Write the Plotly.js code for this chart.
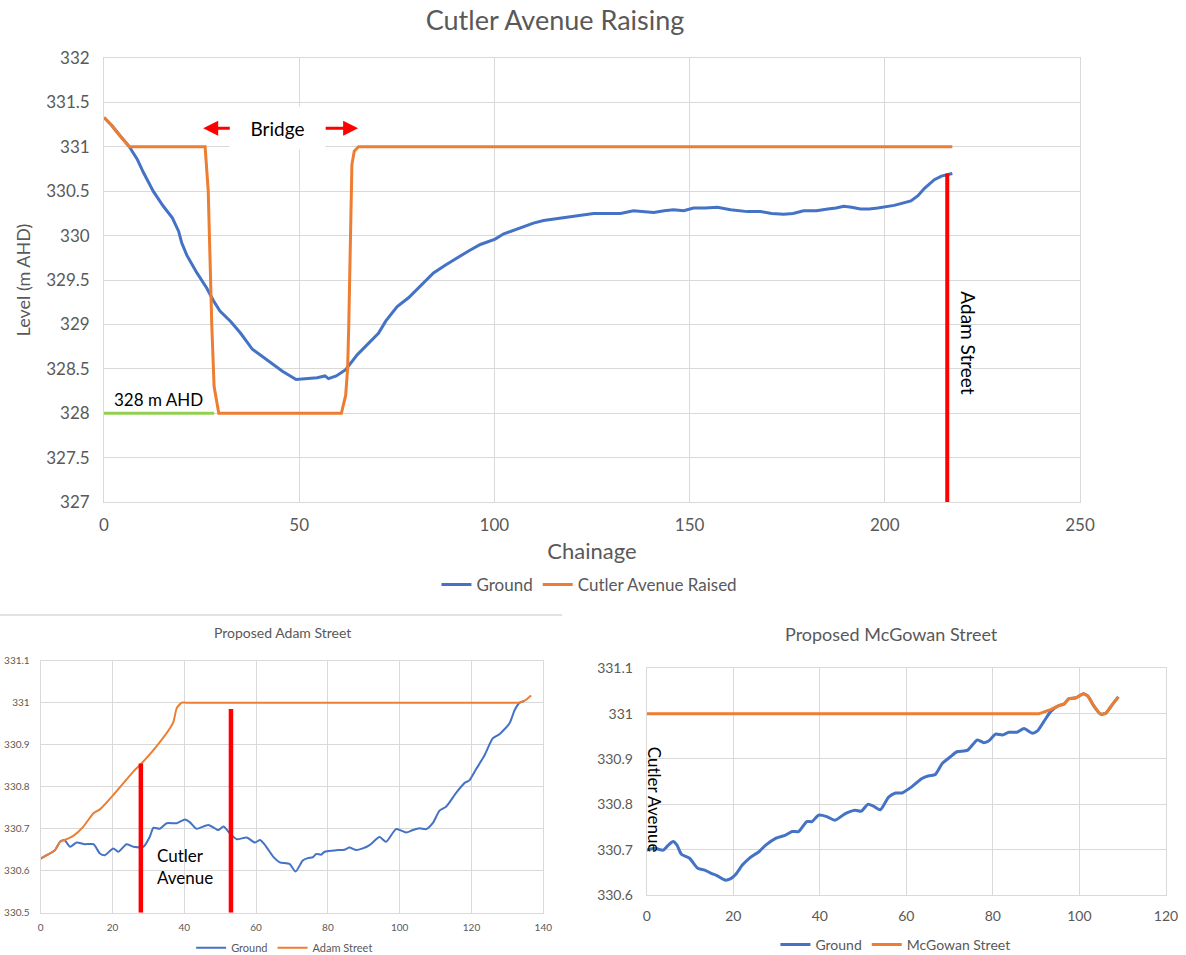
<!DOCTYPE html>
<html>
<head>
<meta charset="utf-8">
<script src="https://cdn.plot.ly/plotly-3.0.1.min.js"></script>
<style>html,body{margin:0;padding:0;background:#fff;}#chart{width:1186px;height:955px;}</style>
</head>
<body>
<div id="chart"></div>
<script>
// ---------- Top chart: Cutler Avenue Raising ----------
const topGroundX = [0, 2, 4, 6.5, 8.5, 10.1, 12.6, 15.2, 17.5, 19.1, 19.9, 21.2, 23.8, 26.3, 28, 29.7, 32.5, 35, 38, 41.9, 45.8, 49.2, 51.7, 54.6, 56.6, 57.5, 59.5, 61.9, 64.9, 67.3, 70.3, 72.2, 75.1, 78, 81, 84.4, 87.5, 90.4, 93.5, 96.4, 98.5, 100.2, 102.4, 105, 107.5, 110, 112.6, 115.5, 118.6, 122, 125.4, 129, 132.3, 135.6, 138, 140.8, 143.5, 145.9, 148.5, 151, 154, 157.1, 160.5, 164.8, 168.2, 171, 174.1, 176.5, 179.2, 182.5, 185.4, 187.5, 189.5, 191.5, 193.8, 196, 198.2, 202.4, 206.7, 208.5, 210.1, 212.7, 214.5, 216.1, 217.3];
const topGroundY = [331.33, 331.24, 331.13, 331.0, 330.86, 330.71, 330.5, 330.33, 330.2, 330.05, 329.92, 329.78, 329.58, 329.41, 329.27, 329.15, 329.03, 328.9, 328.72, 328.6, 328.47, 328.38, 328.39, 328.4, 328.42, 328.39, 328.42, 328.49, 328.66, 328.77, 328.9, 329.04, 329.2, 329.3, 329.43, 329.58, 329.67, 329.75, 329.83, 329.9, 329.93, 329.96, 330.02, 330.06, 330.1, 330.14, 330.17, 330.19, 330.21, 330.23, 330.25, 330.25, 330.25, 330.28, 330.27, 330.26, 330.28, 330.29, 330.28, 330.31, 330.31, 330.32, 330.29, 330.27, 330.27, 330.25, 330.24, 330.25, 330.28, 330.28, 330.30, 330.31, 330.33, 330.32, 330.30, 330.30, 330.31, 330.34, 330.39, 330.45, 330.53, 330.63, 330.67, 330.69, 330.7];
const topRaisedX = [0, 2, 4, 6.5, 15, 25.9, 26.7, 27.2, 27.6, 28.2, 29.4, 45, 60.8, 61.9, 62.4, 62.7, 63.5, 64.1, 65.2, 120, 217.3];
const topRaisedY = [331.33, 331.24, 331.13, 331.0, 331.0, 331.0, 330.5, 329.5, 329.0, 328.3, 328.0, 328.0, 328.0, 328.2, 328.5, 329.0, 330.8, 330.95, 331.0, 331.0, 331.0];
const ahdLineX = [0, 28.2];
const ahdLineY = [328, 328];
const adamStreetMarkX = [216, 216];
const adamStreetMarkY = [327, 330.7];

// ---------- Bottom left: Proposed Adam Street ----------
const adamGroundX = [0, 1.7, 4, 5.4, 6.6, 8.2, 10, 12.3, 14.7, 16.5, 17.9, 20.2, 21.6, 23.9, 25.8, 28.6, 30.4, 31.4, 33.2, 35.1, 37.9, 40.2, 41.6, 43.4, 46.7, 49.5, 50.9, 52.7, 54.6, 57.4, 59.7, 61.1, 62.5, 64.8, 66.6, 69.3, 71, 73, 74.4, 75.8, 76.8, 78.1, 79.1, 82.8, 84.6, 86, 87.9, 89.7, 91.6, 94.4, 96.2, 99, 101.8, 103.7, 105.5, 107.4, 109.2, 111.1, 112.9, 115.7, 118.1, 119.4, 121.3, 123.6, 125.9, 127.8, 130.6, 132, 133.4, 134.8];
const adamGroundY = [330.629, 330.637, 330.649, 330.669, 330.673, 330.657, 330.667, 330.663, 330.663, 330.641, 330.637, 330.653, 330.645, 330.663, 330.657, 330.657, 330.681, 330.702, 330.700, 330.713, 330.713, 330.722, 330.715, 330.700, 330.709, 330.697, 330.705, 330.689, 330.675, 330.679, 330.667, 330.673, 330.661, 330.633, 330.620, 330.616, 330.598, 330.624, 330.630, 330.632, 330.640, 330.638, 330.645, 330.649, 330.650, 330.655, 330.649, 330.653, 330.661, 330.680, 330.669, 330.699, 330.691, 330.697, 330.701, 330.699, 330.713, 330.743, 330.752, 330.785, 330.809, 330.815, 330.842, 330.874, 330.915, 330.925, 330.951, 330.982, 331.000, 331.004];
const adamStreetX = [0, 1.7, 4, 5.4, 6.6, 7.2, 9.1, 11.9, 14.7, 16.5, 20.2, 25.8, 27.7, 31.4, 36, 37, 37.9, 39.3, 40.5, 80, 132, 133.4, 135.2, 136.6];
const adamStreetY = [330.629, 330.637, 330.649, 330.669, 330.673, 330.675, 330.683, 330.705, 330.737, 330.746, 330.780, 330.836, 330.852, 330.887, 330.939, 330.955, 330.987, 331.0, 331.0, 331.0, 331.0, 331.0, 331.007, 331.017];
const cutlerMarkX = [27.9, 53];
const cutlerMarkTop = [330.855, 330.985];
const cutlerMarkBase = 330.5;

// ---------- Bottom right: Proposed McGowan Street ----------
const mcgGroundX = [0, 1.9, 3.8, 5, 6.1, 7, 8, 9.9, 11.8, 13.4, 14.9, 16, 18.1, 19.2, 20.6, 22.1, 23.7, 26, 27.5, 29.8, 32.1, 33.6, 35.1, 37, 38.2, 39.7, 41.6, 43.5, 45.8, 48.1, 49.6, 51.1, 52.4, 54, 55.9, 57.5, 59, 61.3, 63.6, 65.2, 66.7, 68.3, 70.2, 71.7, 74.1, 76.4, 77.9, 79.1, 80.6, 82.2, 83.7, 85.6, 87.2, 89.1, 90.3, 91.8, 93.4, 95.3, 96.4, 97.6, 99.2, 100.9, 101.9, 103.4, 104.9, 106.1, 107.6, 109];
const mcgGroundY = [330.699, 330.703, 330.699, 330.710, 330.718, 330.710, 330.690, 330.681, 330.659, 330.655, 330.648, 330.644, 330.633, 330.635, 330.646, 330.666, 330.681, 330.696, 330.710, 330.725, 330.732, 330.740, 330.740, 330.762, 330.762, 330.776, 330.773, 330.765, 330.779, 330.787, 330.785, 330.800, 330.796, 330.788, 330.816, 330.825, 330.825, 330.839, 330.857, 330.863, 330.866, 330.890, 330.905, 330.916, 330.919, 330.942, 330.936, 330.940, 330.955, 330.953, 330.959, 330.959, 330.967, 330.957, 330.962, 330.983, 331.005, 331.018, 331.021, 331.033, 331.035, 331.044, 331.039, 331.016, 330.999, 331.001, 331.020, 331.037];
const mcgStreetX = [0, 50, 89.5, 90.7, 92.2, 93.4, 95.3, 96.4, 97.6, 99.2, 100.9, 101.9, 103.4, 104.9, 106.1, 107.6, 109];
const mcgStreetY = [331.0, 331.0, 331.0, 331.0, 331.005, 331.009, 331.018, 331.021, 331.033, 331.035, 331.044, 331.039, 331.016, 330.999, 331.001, 331.020, 331.037];

const BLUE = '#4472C4', ORANGE = '#ED7D31', RED = '#FF0000', GREEN = '#92D050';
const GRID = '#d9d9d9', TXT = '#595959';
const FONT = 'Lato, "Open Sans", sans-serif';

const traces = [
  {x: topGroundX, y: topGroundY, xaxis: 'x', yaxis: 'y', name: 'Ground', mode: 'lines',
   line: {color: BLUE, width: 3}, legend: 'legend'},
  {x: topRaisedX, y: topRaisedY, xaxis: 'x', yaxis: 'y', name: 'Cutler Avenue Raised', mode: 'lines',
   line: {color: ORANGE, width: 3}, legend: 'legend'},
  {x: ahdLineX, y: ahdLineY, xaxis: 'x', yaxis: 'y', mode: 'lines', showlegend: false, hoverinfo: 'skip',
   line: {color: GREEN, width: 3}},
  {x: adamStreetMarkX, y: adamStreetMarkY, xaxis: 'x', yaxis: 'y', mode: 'lines', showlegend: false, hoverinfo: 'skip',
   line: {color: RED, width: 4}},

  {x: adamGroundX, y: adamGroundY, xaxis: 'x2', yaxis: 'y2', name: 'Ground', mode: 'lines',
   line: {color: BLUE, width: 2, shape: 'spline', smoothing: 0.6}, legend: 'legend2'},
  {x: adamStreetX, y: adamStreetY, xaxis: 'x2', yaxis: 'y2', name: 'Adam Street', mode: 'lines',
   line: {color: ORANGE, width: 2, shape: 'spline', smoothing: 0.6}, legend: 'legend2'},
  {x: [cutlerMarkX[0], cutlerMarkX[0]], y: [cutlerMarkBase, cutlerMarkTop[0]], xaxis: 'x2', yaxis: 'y2', mode: 'lines',
   showlegend: false, hoverinfo: 'skip', line: {color: RED, width: 4.5}},
  {x: [cutlerMarkX[1], cutlerMarkX[1]], y: [cutlerMarkBase, cutlerMarkTop[1]], xaxis: 'x2', yaxis: 'y2', mode: 'lines',
   showlegend: false, hoverinfo: 'skip', line: {color: RED, width: 4.5}},

  {x: mcgGroundX, y: mcgGroundY, xaxis: 'x3', yaxis: 'y3', name: 'Ground', mode: 'lines',
   line: {color: BLUE, width: 3, shape: 'spline', smoothing: 0.6}, legend: 'legend3'},
  {x: mcgStreetX, y: mcgStreetY, xaxis: 'x3', yaxis: 'y3', name: 'McGowan Street', mode: 'lines',
   line: {color: ORANGE, width: 3, shape: 'spline', smoothing: 0.6}, legend: 'legend3'}
];

function ax(extra) {
  return Object.assign({
    showgrid: true, gridcolor: GRID, gridwidth: 1, zeroline: false,
    showline: true, linecolor: GRID, linewidth: 1, mirror: true,
    ticks: '', fixedrange: true
  }, extra);
}

const layout = {
  width: 1186, height: 955,
  margin: {l: 0, r: 0, t: 0, b: 0, autoexpand: false},
  paper_bgcolor: '#ffffff', plot_bgcolor: '#ffffff',
  font: {family: FONT, color: TXT},
  title: {text: 'Cutler Avenue Raising', x: 0.468, xanchor: 'center', y: 0.979, yanchor: 'middle',
          font: {size: 27, color: TXT, family: FONT}},
  xaxis: ax({domain: [0.0877, 0.9106], anchor: 'y', range: [0, 250], tick0: 0, dtick: 50,
             tickfont: {size: 17, color: TXT}, ticklabelstandoff: 8,
             title: {text: 'Chainage', font: {size: 22, color: TXT}, standoff: 9}}),
  yaxis: ax({domain: [0.4743, 0.9393], anchor: 'x', range: [327, 332], tick0: 327, dtick: 0.5,
             tickfont: {size: 17, color: TXT}, ticklabelstandoff: 10,
             title: {text: 'Level (m AHD)', font: {size: 18, color: TXT}, standoff: 10}}),
  xaxis2: ax({domain: [0.0343, 0.4581], anchor: 'y2', range: [0, 140], tick0: 0, dtick: 20,
              tickfont: {size: 10, color: TXT}, ticklabelstandoff: 5}),
  yaxis2: ax({domain: [0.0443, 0.3082], anchor: 'x2', range: [330.5, 331.1], tick0: 330.5, dtick: 0.1,
              tickfont: {size: 10, color: TXT}, ticklabelstandoff: 8}),
  xaxis3: ax({domain: [0.5453, 0.9831], anchor: 'y3', range: [0, 120], tick0: 0, dtick: 20,
              tickfont: {size: 14, color: TXT}, ticklabelstandoff: 8}),
  yaxis3: ax({domain: [0.0628, 0.3002], anchor: 'x3', range: [330.6, 331.1], tick0: 330.6, dtick: 0.1,
              tickfont: {size: 14, color: TXT}, ticklabelstandoff: 10}),
  legend: {orientation: 'h', x: 0.497, xanchor: 'center', y: 0.3874, yanchor: 'middle',
           font: {size: 17, color: TXT}, bgcolor: 'rgba(0,0,0,0)'},
  legend2: {orientation: 'h', x: 0.24, xanchor: 'center', y: 0.0075, yanchor: 'middle',
            font: {size: 11, color: TXT}, bgcolor: 'rgba(0,0,0,0)'},
  legend3: {orientation: 'h', x: 0.755, xanchor: 'center', y: 0.0105, yanchor: 'middle',
            font: {size: 14, color: TXT}, bgcolor: 'rgba(0,0,0,0)'},
  shapes: [
    {type: 'line', xref: 'paper', yref: 'paper', x0: 0, x1: 0.474, y0: 0.356, y1: 0.356,
     line: {color: GRID, width: 1.5}}
  ],
  annotations: [
    {xref: 'x', yref: 'y', x: 44.4, y: 331.21, text: 'Bridge', showarrow: false,
     font: {size: 19, color: '#000000', family: FONT}, bgcolor: '#ffffff', width: 93, height: 40},
    {xref: 'x', yref: 'y', x: 25.4, y: 331.21, ax: 32.6, ay: 331.21, axref: 'x', ayref: 'y', text: '',
     showarrow: true, arrowcolor: RED, arrowwidth: 3, arrowhead: 2, arrowsize: 1},
    {xref: 'x', yref: 'y', x: 65.1, y: 331.21, ax: 56.4, ay: 331.21, axref: 'x', ayref: 'y', text: '',
     showarrow: true, arrowcolor: RED, arrowwidth: 3, arrowhead: 2, arrowsize: 1},
    {xref: 'x', yref: 'y', x: 2, y: 328.15, text: '328 m AHD', showarrow: false, xanchor: 'left', yanchor: 'middle',
     font: {size: 17, color: '#000000', family: FONT}},
    {xref: 'x', yref: 'y', x: 221.5, y: 328.79, text: 'Adam Street', showarrow: false, textangle: 90,
     font: {size: 19, color: '#000000', family: FONT}},
    {xref: 'paper', yref: 'paper', x: 0.2378, y: 0.338, text: 'Proposed Adam Street', showarrow: false,
     xanchor: 'center', yanchor: 'middle', font: {size: 14, color: TXT, family: FONT}},
    {xref: 'x2', yref: 'y2', x: 31.8, y: 330.611, text: 'Cutler<br>Avenue', showarrow: false, align: 'left',
     xanchor: 'left', yanchor: 'middle', font: {size: 17, color: '#000000', family: FONT}},
    {xref: 'paper', yref: 'paper', x: 0.752, y: 0.336, text: 'Proposed McGowan Street', showarrow: false,
     xanchor: 'center', yanchor: 'middle', font: {size: 18, color: TXT, family: FONT}},
    {xref: 'x3', yref: 'y3', x: 1.7, y: 330.81, text: 'Cutler Avenue', showarrow: false, textangle: 90,
     font: {size: 17, color: '#000000', family: FONT}}
  ]
};

Plotly.newPlot('chart', traces, layout, {displayModeBar: false, staticPlot: true});
</script>
</body>
</html>
